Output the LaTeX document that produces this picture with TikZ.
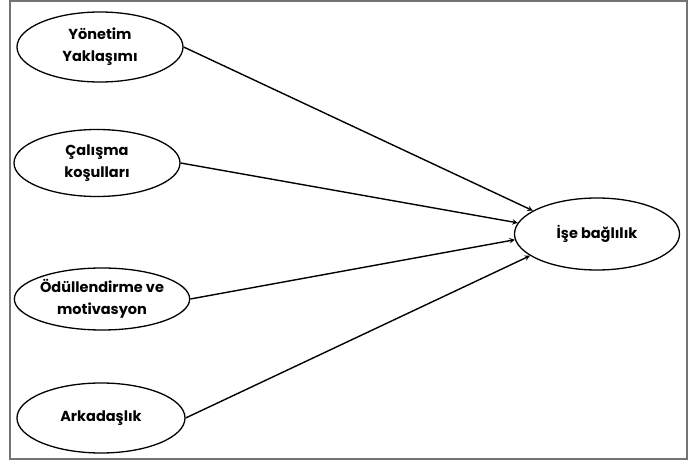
\documentclass[tikz,border=0pt]{standalone}
\usepackage{fontspec}
\setmainfont{Poppins}
\usepackage{tikz}
\usetikzlibrary{arrows,positioning,shapes.geometric}

\begin{document}
\begin{tikzpicture}[x=1pt,y=-1pt,
  oval/.style={draw,black,line width=1.3pt,ellipse,inner sep=0pt,align=center,
    font=\fontsize{14.5}{22}\selectfont\bfseries},
  link/.style={black,line width=1.4pt,-stealth}]
\useasboundingbox (0,0) rectangle (697,462);
\draw[gray!90!black,line width=1.6pt] (10,1) rectangle (687,459);
\node[oval,minimum width=166pt,minimum height=70pt] (yonetim) at (100,47) {Yönetim\\Yaklaşımı};
\node[oval,minimum width=166pt,minimum height=67pt] (calisma) at (97,163) {Çalışma\\koşulları};
\node[oval,minimum width=170pt,minimum height=62pt] (odul) at (102,299) {Ödüllendirme ve\\motivasyon};
\node[oval,minimum width=168pt,minimum height=70pt] (arkadas) at (101,418) {Arkadaşlık};
\node[oval,minimum width=165pt,minimum height=72pt] (isebag) at (597,234) {İşe bağlılık};
\draw[link] (yonetim.east) -- (isebag.160);
\draw[link] (calisma.east) -- (isebag.172);
\draw[link] (odul.east) -- (isebag.184);
\draw[link] (arkadas.east) -- (isebag.198);
\end{tikzpicture}
\end{document}
